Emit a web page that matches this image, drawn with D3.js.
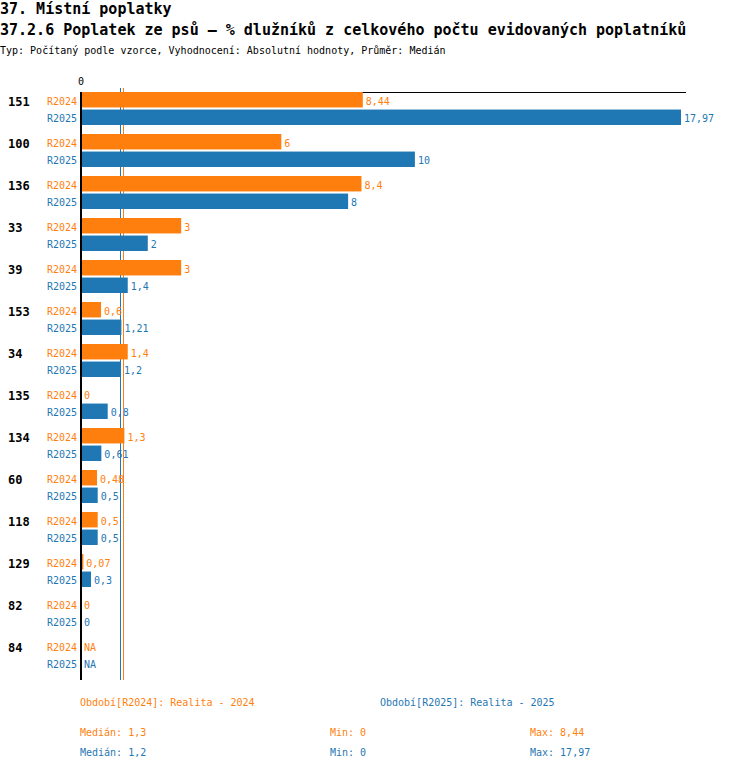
<!DOCTYPE html>
<html>
<head>
<meta charset="utf-8">
<script src="https://cdn.jsdelivr.net/npm/d3@7"></script>
<style>
  body { margin: 0; background: #fff; }
  svg text { font-family: "DejaVu Sans Mono", monospace; }
</style>
</head>
<body>
<svg id="chart" width="750" height="770"></svg>
<script>
'use strict';

var colors = {
    r2024: "#ff7f0e",
    r2025: "#1f77b4",
    axis: "#000",
};

// Data
var categories = ["151", "100", "136", "33", "39", "153", "34", "135", "134", "60", "118", "129", "82", "84"];
var series = ["R2024", "R2025"];
var values_r2024 = [8.44, 6, 8.4, 3, 3, 0.6, 1.4, 0, 1.3, 0.48, 0.5, 0.07, 0, null];
var values_r2025 = [17.97, 10, 8, 2, 1.4, 1.21, 1.2, 0.8, 0.61, 0.5, 0.5, 0.3, 0, null];
var legend_labels = ["Období[R2024]: Realita - 2024", "Období[R2025]: Realita - 2025"];

var series_values = {R2024: values_r2024, R2025: values_r2025};
var series_colors = {R2024: colors.r2024, R2025: colors.r2025};

function median(arr) {
    return d3.median(arr.filter(v => v != null));
}

function fmt(v) {
    if (v == null) return "NA";
    return String(v).replace(".", ",");
}

var svg = d3.select("#chart");

// Titles
svg.append("text")
    .attr("x", 0).attr("y", 14)
    .attr("font-size", 15).attr("font-weight", "bold")
    .text("37. Místní poplatky");

svg.append("text")
    .attr("x", 0).attr("y", 35)
    .attr("font-size", 15).attr("font-weight", "bold")
    .text("37.2.6 Poplatek ze psů – % dlužníků z celkového počtu evidovaných poplatníků");

svg.append("text")
    .attr("x", 0).attr("y", 54)
    .attr("font-size", 10)
    .text("Typ: Počítaný podle vzorce, Vyhodnocení: Absolutní hodnoty, Průměr: Medián");

// Scales
var max_value = d3.max(values_r2024.concat(values_r2025));
var x = d3.scaleLinear()
          .domain([0, max_value])
          .range([81, 681]);

var y = d3.scaleBand()
          .domain(categories)
          .range([92, 680]);

var y_inner = d3.scaleBand()
                .domain(series)
                .range([0, 33])
                .paddingInner(0.12);

// Top line and zero label
svg.append("line")
    .attr("x1", x(0) - 1).attr("x2", 686)
    .attr("y1", 92.5).attr("y2", 92.5)
    .attr("stroke", colors.axis).attr("stroke-width", 1);

svg.append("text")
    .attr("x", x(0)).attr("y", 85)
    .attr("text-anchor", "middle")
    .attr("font-size", 10)
    .text("0");

// Median lines
for (const s of series) {
    var m = median(series_values[s]);
    svg.append("line")
        .attr("x1", Math.round(x(m)) - 0.5).attr("x2", Math.round(x(m)) - 0.5)
        .attr("y1", 88).attr("y2", 680)
        .attr("stroke", series_colors[s]).attr("stroke-width", 1);
}

// Groups
var groups = svg.selectAll("g.group")
    .data(categories)
    .enter().append("g")
    .attr("class", "group")
    .attr("transform", d => "translate(0," + y(d) + ")");

groups.append("text")
    .attr("x", 8)
    .attr("y", y_inner("R2024") + y_inner.bandwidth() / 2 + 2.5)
    .attr("dominant-baseline", "middle")
    .attr("font-size", 12).attr("font-weight", "bold")
    .text(d => d);

for (const s of series) {
    var yy = y_inner(s);
    var bw = y_inner.bandwidth();

    groups.append("text")
        .attr("x", 77)
        .attr("y", yy + bw / 2 + 2)
        .attr("text-anchor", "end")
        .attr("dominant-baseline", "middle")
        .attr("font-size", 10)
        .attr("fill", series_colors[s])
        .text(s);

    groups.append("rect")
        .attr("x", x(0))
        .attr("y", yy)
        .attr("height", bw)
        .attr("width", (d, i) => {
            var v = series_values[s][i];
            return v == null ? 0 : x(v) - x(0);
        })
        .attr("fill", series_colors[s]);

    groups.append("text")
        .attr("x", (d, i) => {
            var v = series_values[s][i];
            return (v == null ? x(0) : x(v)) + 3;
        })
        .attr("y", yy + bw / 2 + 2)
        .attr("dominant-baseline", "middle")
        .attr("font-size", 10)
        .attr("fill", series_colors[s])
        .text((d, i) => fmt(series_values[s][i]));
}

// Axis line
svg.append("line")
    .attr("x1", x(0)).attr("x2", x(0))
    .attr("y1", 92).attr("y2", 680)
    .attr("stroke", colors.axis).attr("stroke-width", 2);

// Legend
svg.append("text")
    .attr("x", 80).attr("y", 706)
    .attr("font-size", 10).attr("fill", colors.r2024)
    .text(legend_labels[0]);

svg.append("text")
    .attr("x", 380).attr("y", 706)
    .attr("font-size", 10).attr("fill", colors.r2025)
    .text(legend_labels[1]);

// Stats
series.forEach((s, i) => {
    var vals = series_values[s].filter(v => v != null);
    var ty = 736 + i * 20;
    var c = series_colors[s];
    svg.append("text").attr("x", 80).attr("y", ty)
        .attr("font-size", 10).attr("fill", c)
        .text("Medián: " + fmt(median(vals)));
    svg.append("text").attr("x", 330).attr("y", ty)
        .attr("font-size", 10).attr("fill", c)
        .text("Min: " + fmt(d3.min(vals)));
    svg.append("text").attr("x", 530).attr("y", ty)
        .attr("font-size", 10).attr("fill", c)
        .text("Max: " + fmt(d3.max(vals)));
});
</script>
</body>
</html>
